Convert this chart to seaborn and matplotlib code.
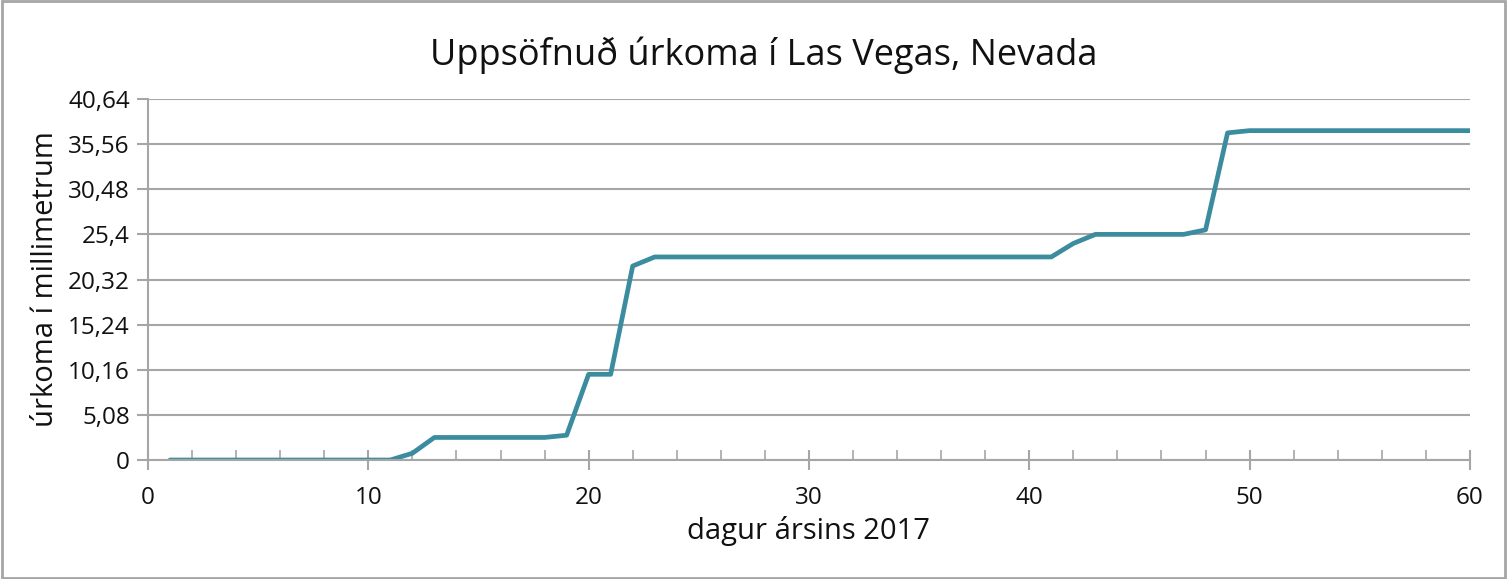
import matplotlib
matplotlib.use('Agg')
import matplotlib.pyplot as plt
import seaborn as sns
import pandas as pd
from matplotlib.patches import Rectangle
from matplotlib.ticker import MultipleLocator

days = list(range(1, 61))
rain_mm = [0, 0, 0, 0, 0, 0, 0, 0, 0, 0,
           0, 0.76, 2.54, 2.54, 2.54, 2.54, 2.54, 2.54, 2.79, 9.65,
           9.65, 21.84, 22.86, 22.86, 22.86, 22.86, 22.86, 22.86, 22.86, 22.86,
           22.86, 22.86, 22.86, 22.86, 22.86, 22.86, 22.86, 22.86, 22.86, 22.86,
           22.86, 24.38, 25.4, 25.4, 25.4, 25.4, 25.4, 25.91, 36.83, 37.08,
           37.08, 37.08, 37.08, 37.08, 37.08, 37.08, 37.08, 37.08, 37.08, 37.08]
y_ticks = [0, 5.08, 10.16, 15.24, 20.32, 25.4, 30.48, 35.56, 40.64]
y_tick_labels = ['0', '5,08', '10,16', '15,24', '20,32', '25,4', '30,48', '35,56', '40,64']

df = pd.DataFrame({'dagur': days, 'urkoma': rain_mm})

sns.set_style('white')
plt.rcParams['font.family'] = ['Open Sans', 'DejaVu Sans']

fig = plt.figure(figsize=(15.07, 5.79), dpi=100)
ax = fig.add_axes([0.0982, 0.2055, 0.8772, 0.6235])

sns.lineplot(data=df, x='dagur', y='urkoma', ax=ax, color='#3a8c9e', linewidth=3.4)

grid_c = '#a6a6a6'
ax.set_xlim(0, 60)
ax.set_ylim(0, 40.64)
ax.set_yticks(y_ticks)
ax.set_yticklabels(y_tick_labels)
ax.xaxis.set_major_locator(MultipleLocator(10))
ax.xaxis.set_minor_locator(MultipleLocator(2))
ax.yaxis.grid(True, color=grid_c, linewidth=1.5)
ax.set_axisbelow(True)
for s in ['top', 'right']:
    ax.spines[s].set_visible(False)
for s in ['left', 'bottom']:
    ax.spines[s].set_color(grid_c)
    ax.spines[s].set_linewidth(1.5)
ax.tick_params(axis='y', which='major', direction='out', length=8, width=1.5,
               color=grid_c, labelsize=17.5, labelcolor='#111111', pad=5, left=True)
ax.tick_params(axis='x', which='major', direction='inout', length=14, width=1.5,
               color=grid_c, labelsize=17.5, labelcolor='#111111', pad=12, bottom=True)
ax.tick_params(axis='x', which='minor', direction='in', length=7, width=1.2,
               color=grid_c, bottom=True)

ax.set_xlabel('dagur ársins 2017', fontsize=21, color='#111111', labelpad=4)
ax.set_ylabel('úrkoma í millimetrum', fontsize=21, color='#111111', labelpad=6)

fig.text(0.507, 0.905, 'Uppsöfnuð úrkoma í Las Vegas, Nevada', ha='center', va='center',
         fontsize=26, color='#111111')

fig.patches.append(Rectangle((0.001, 0.002), 0.998, 0.996, transform=fig.transFigure,
                             fill=False, edgecolor='#a6a6a6', linewidth=2))

fig.savefig('out.png', dpi=100)
